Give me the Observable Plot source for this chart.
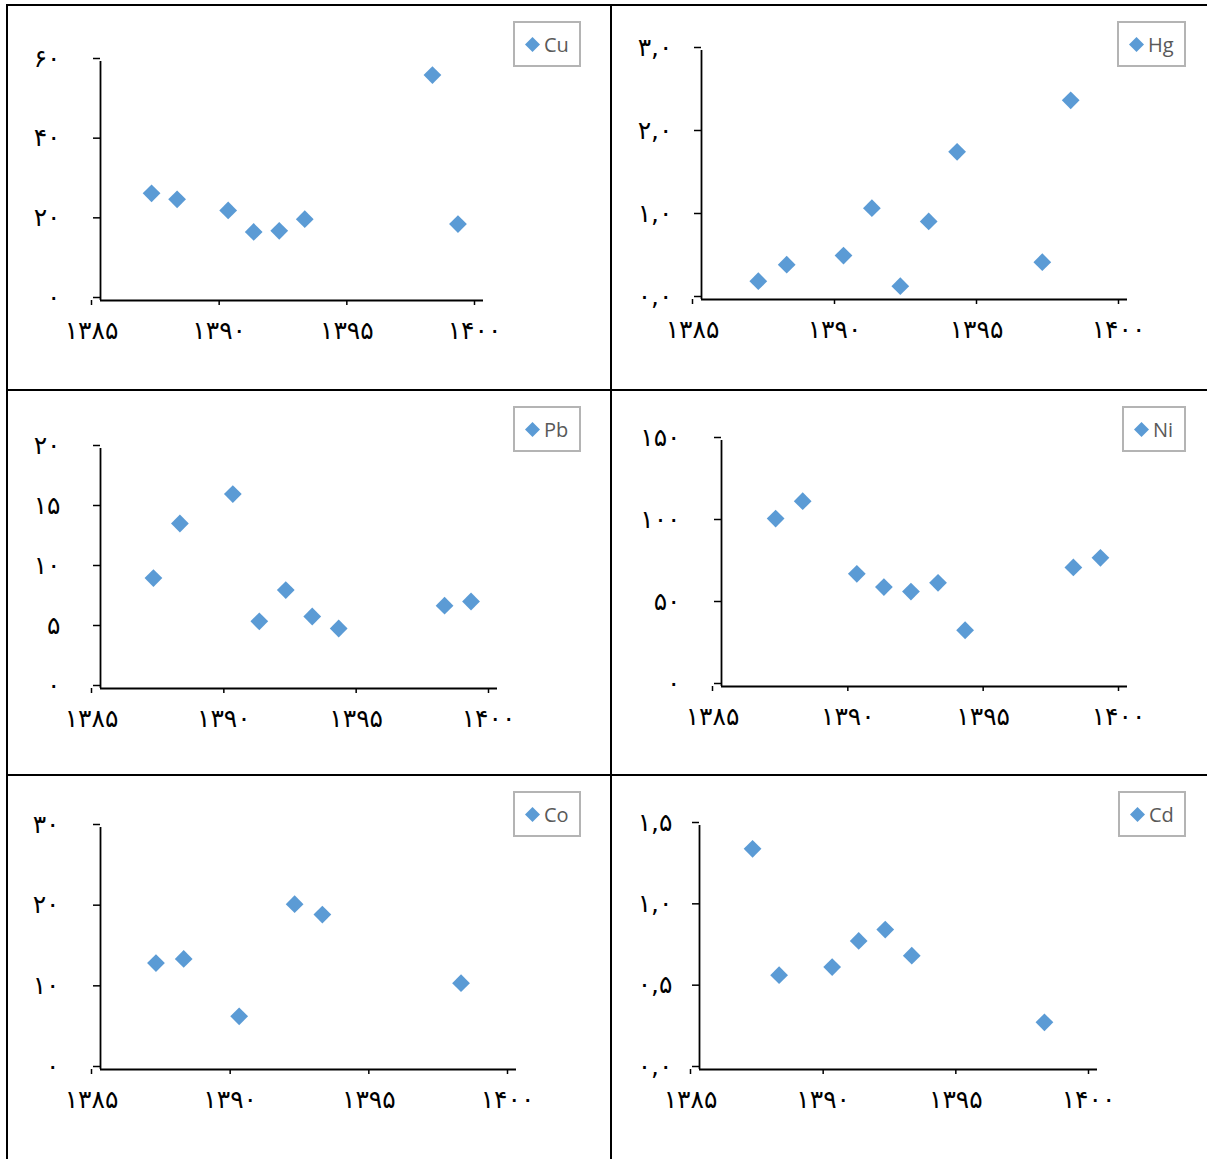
<!DOCTYPE html>
<html>
<head>
<meta charset="utf-8">
<script src="https://cdn.jsdelivr.net/npm/d3@7"></script>
<script src="https://cdn.jsdelivr.net/npm/@observablehq/plot@0.6"></script>
<style>
  html, body { margin: 0; padding: 0; background: #fff; }
  #page { position: relative; width: 1207px; height: 1159px; overflow: hidden; background: #fff; }
  .line { position: absolute; background: #000; }
  .cell { position: absolute; }
  .cell g[aria-label="x-axis tick label"] text { letter-spacing: 3px; }
  .legend { position: absolute; box-sizing: border-box; border: 2px solid #b4b4b4; background: #fff;
            display: flex; align-items: center; font-family: "Open Sans", sans-serif; font-size: 20px; color: #595959; }
  .legend svg { margin-left: 10px; margin-right: 4px; }
</style>
</head>
<body>
<div id="page"></div>
<script>
// ---- data ----
const xTicks = [1385, 1390, 1395, 1400];

const cuYears = [1387, 1388, 1390, 1391, 1392, 1393, 1398, 1399];
const cuValues = [26.9, 25.4, 22.6, 17.2, 17.5, 20.4, 56.6, 19.2];
const cuTicks = [0, 20, 40, 60];

const hgYears = [1387, 1388, 1390, 1391, 1392, 1393, 1394, 1397, 1398];
const hgValues = [0.22, 0.42, 0.53, 1.10, 0.16, 0.94, 1.78, 0.45, 2.40];
const hgTicks = [0, 1, 2, 3];

const pbYears = [1387, 1388, 1390, 1391, 1392, 1393, 1394, 1398, 1399];
const pbValues = [9.2, 13.75, 16.2, 5.6, 8.2, 6.0, 5.0, 6.9, 7.25];
const pbTicks = [0, 5, 10, 15, 20];

const niYears = [1387, 1388, 1390, 1391, 1392, 1393, 1394, 1398, 1399];
const niValues = [102.4, 113, 68.7, 60.6, 57.9, 63.2, 34.3, 72.6, 78.5];
const niTicks = [0, 50, 100, 150];

const coYears = [1387, 1388, 1390, 1392, 1393, 1398];
const coValues = [13.2, 13.7, 6.6, 20.5, 19.2, 10.7];
const coTicks = [0, 10, 20, 30];

const cdYears = [1387, 1388, 1390, 1391, 1392, 1393, 1398];
const cdValues = [1.357, 0.58, 0.63, 0.79, 0.86, 0.70, 0.29];
const cdTicks = [0, 0.5, 1, 1.5];

// ---- helpers ----
const faDigits = "۰۱۲۳۴۵۶۷۸۹";
const toFa = s => String(s).replace(/[0-9]/g, d => faDigits[+d]);
const fmtInt = d => toFa(d);
const fmtDec = d => toFa(d.toFixed(1)).replace(".", ",");

// layout (absolute page pixels)
const panels = [
  {name: "Cu", years: cuYears, values: cuValues, ticks: cuTicks, fmt: fmtInt, pad: 33,
   cell: [8, 6, 602, 383], frame: {left: 100, right: 483, top: 61, bottom: 300}, legend: [513, 21, 68, 46]},
  {name: "Hg", years: hgYears, values: hgValues, ticks: hgTicks, fmt: fmtDec, pad: 22,
   cell: [612, 6, 595, 383], frame: {left: 701, right: 1127, top: 50, bottom: 299}, legend: [1117, 21, 69, 46]},
  {name: "Pb", years: pbYears, values: pbValues, ticks: pbTicks, fmt: fmtInt, pad: 33,
   cell: [8, 391, 602, 383], frame: {left: 100, right: 497, top: 448, bottom: 688}, legend: [513, 406, 68, 46]},
  {name: "Ni", years: niYears, values: niValues, ticks: niTicks, fmt: fmtInt, pad: 34,
   cell: [612, 391, 595, 383], frame: {left: 721, right: 1127, top: 440, bottom: 686}, legend: [1122, 406, 64, 46]},
  {name: "Co", years: coYears, values: coValues, ticks: coTicks, fmt: fmtInt, pad: 34,
   cell: [8, 776, 602, 383], frame: {left: 100, right: 516, top: 827, bottom: 1069}, legend: [513, 791, 68, 46]},
  {name: "Cd", years: cdYears, values: cdValues, ticks: cdTicks, fmt: fmtDec, pad: 20,
   cell: [612, 776, 595, 383], frame: {left: 699, right: 1097, top: 825, bottom: 1069}, legend: [1118, 791, 68, 46]}
];

const page = document.getElementById("page");

// table borders
[[6, 4, 1201, 2], [6, 4, 2, 1155], [610, 4, 2, 1155], [6, 389, 1201, 2], [6, 774, 1201, 2]].forEach(([l, t, w, h]) => {
  const d = document.createElement("div");
  d.className = "line";
  Object.assign(d.style, {left: l + "px", top: t + "px", width: w + "px", height: h + "px"});
  page.appendChild(d);
});

const blue = "#5B9BD5";

panels.forEach(p => {
  const [cx, cy, cw, ch] = p.cell;
  const f = p.frame;
  const yMax = p.ticks[p.ticks.length - 1];
  const data = p.years.map((year, i) => ({year, value: p.values[i]}));
  const chart = Plot.plot({
    width: cw, height: ch,
    marginLeft: f.left - cx, marginRight: cx + cw - f.right,
    marginTop: f.top - cy, marginBottom: cy + ch - f.bottom,
    x: {domain: [1385, 1400], label: null},
    y: {domain: [0, yMax], label: null},
    style: {fontFamily: "'DejaVu Sans', sans-serif", fontSize: "25px", fontWeight: "normal",
            background: "transparent", color: "#000", overflow: "visible"},
    marks: [
      Plot.axisY(p.ticks, {tickSize: 7, tickPadding: p.pad, tickFormat: p.fmt, strokeWidth: 1.5, dy: -3, label: null}),
      Plot.axisX(xTicks, {tickSize: 5, tickPadding: 16, tickFormat: toFa, strokeWidth: 1.5, dx: -9, label: null}),
      Plot.ruleX([1385], {y1: 0, y2: yMax, strokeWidth: 1.8}),
      Plot.ruleY([0], {x1: 1385, x2: 1400, strokeWidth: 1.8}),
      Plot.dot(data, {x: "year", y: "value", symbol: "diamond2", r: 8, fill: blue, stroke: null})
    ]
  });
  chart.classList.add("cell");
  chart.style.left = cx + "px";
  chart.style.top = cy + "px";
  chart.style.maxWidth = "none";
  page.appendChild(chart);

  const [lx, ly, lw, lh] = p.legend;
  const lg = document.createElement("div");
  lg.className = "legend";
  Object.assign(lg.style, {left: lx + "px", top: ly + "px", width: lw + "px", height: lh + "px"});
  lg.innerHTML = `<svg width="15" height="15" viewBox="-7.5 -7.5 15 15"><path d="M0,-7.5L7.5,0L0,7.5L-7.5,0Z" fill="${blue}"/></svg><span>${p.name}</span>`;
  page.appendChild(lg);
});
</script>
</body>
</html>
